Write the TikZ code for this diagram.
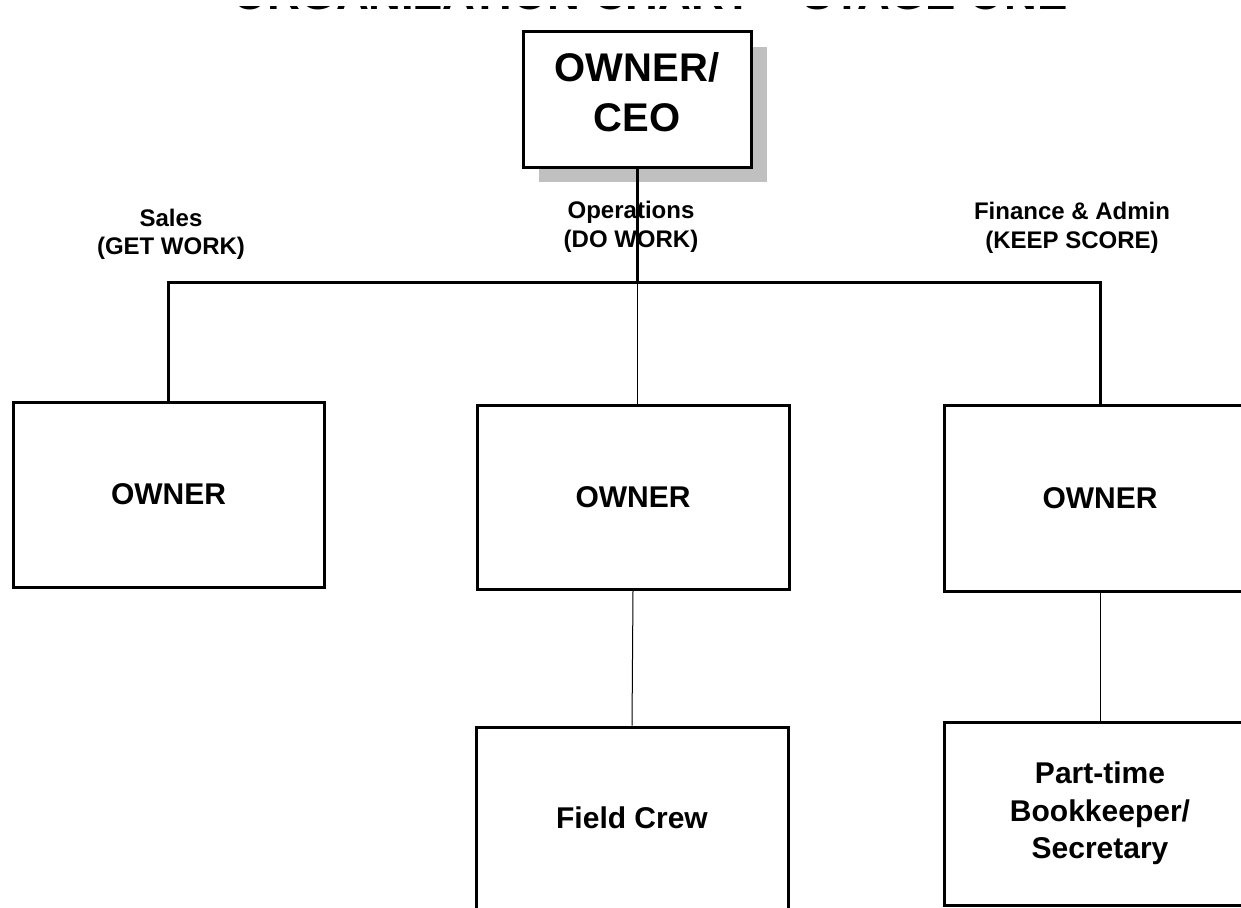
\documentclass[tikz,border=0pt]{standalone}
\usepackage{fontspec}
\setmainfont{Liberation Sans}
\usetikzlibrary{shadows}
\definecolor{shadowgray}{HTML}{C0C0C0}
\begin{document}
\begin{tikzpicture}[x=1pt,y=-1pt,
  box/.style={draw, line width=3pt, fill=white, align=center, inner sep=0pt,
    minimum width=312pt, font=\fontsize{30}{37.5}\selectfont\bfseries},
  trunk/.style={line width=3pt},
  link/.style={line width=1pt},
  branch/.style={align=center, inner sep=0pt, font=\fontsize{24}{28.5}\selectfont\bfseries},
]
\useasboundingbox (0,0) rectangle (1241,907);

% chart title: only the lower edge of its letters shows
\begin{scope}
  \clip (0,6.5) rectangle (1241,20);
  \node[anchor=base, inner sep=0pt, font=\fontsize{45.5}{50}\selectfont\bfseries]
    (title) at (650,10) {ORGANIZATION CHART – STAGE ONE};
\end{scope}

% top of the chart
\node[box, minimum width=228pt, minimum height=135pt, text depth=14pt,
  font=\fontsize{40}{50}\selectfont\bfseries,
  drop shadow={shadow xshift=16pt, shadow yshift=-15pt, fill=shadowgray, opacity=1}]
  (ceo) at (637,99.5) {OWNER/\\CEO};

% function labels
\node[branch] (salesLabel) at (171,234.5) {Sales\\(GET WORK)};
\node[branch] (opsLabel) at (631,227) {Operations\\(DO WORK)};
\node[branch] (finLabel) at (1072,228) {Finance \& Admin\\(KEEP SCORE)};

% first level
\node[box, minimum width=311pt, minimum height=185pt] (sales) at (168.5,494.5) {OWNER};
\node[box, minimum height=184pt] (ops) at (633,497) {OWNER};
\node[box, minimum height=186pt] (fin) at (1100,498) {OWNER};

% second level
\node[box, minimum height=182pt] (crew) at (632,818) {Field Crew};
\node[box, minimum height=183pt] (book) at (1100,813.5) {Part-time\\Bookkeeper/\\Secretary};

% connectors
\coordinate (bus) at (637,282);
\draw[trunk] (ceo.south) -- (bus);
\draw[trunk] (sales.north) |- (bus) -| (fin.north);
\draw[link] (bus) -- (bus |- ops.north);
\draw[link] (ops.south) -- (crew.north);
\draw[link] (fin.south) -- (book.north);
\end{tikzpicture}
\end{document}
